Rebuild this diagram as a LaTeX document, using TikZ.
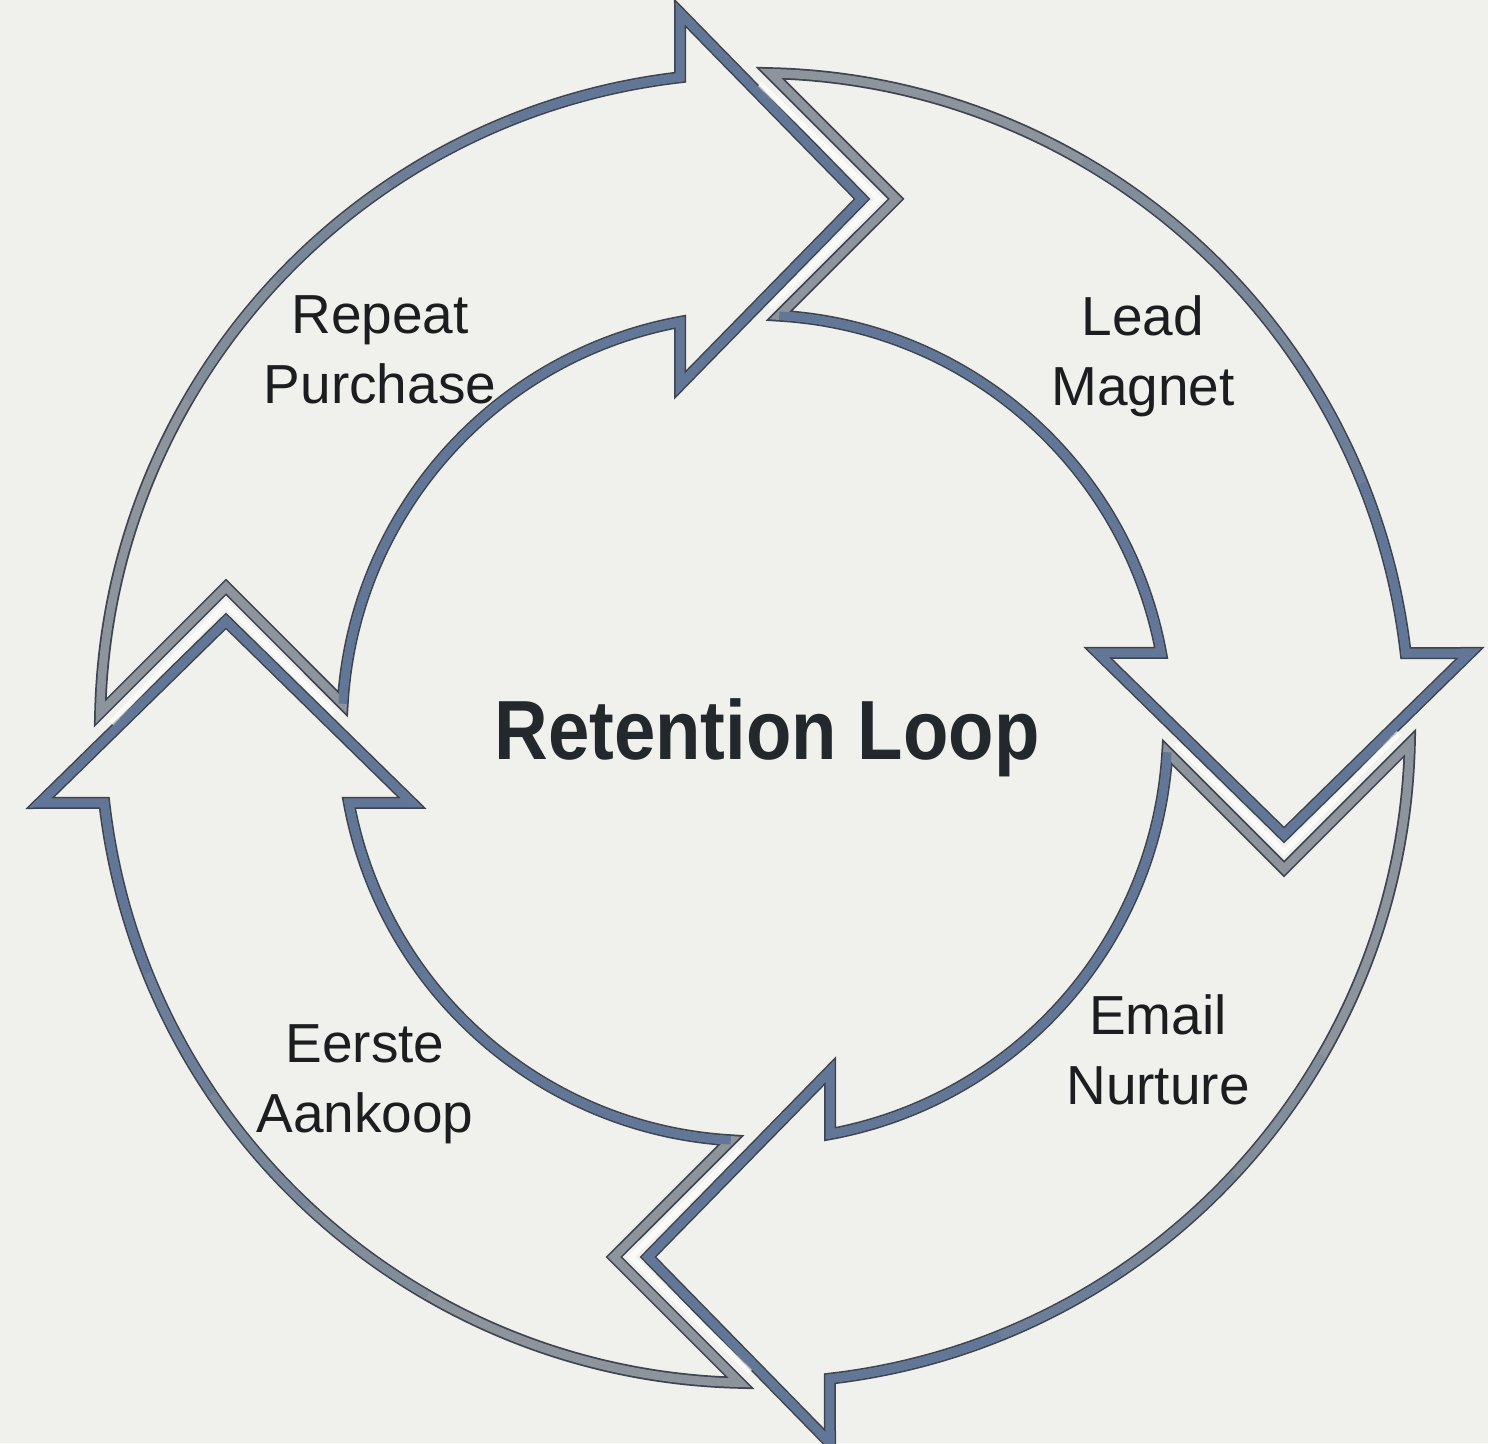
\documentclass[tikz,border=0pt]{standalone}
\usepackage{fontspec}
\setmainfont{Liberation Sans}
\newfontfamily\titlefont{Liberation Sans}[FakeStretch=0.885]

\definecolor{paper}{HTML}{F0F0EC}
\definecolor{rimedge}{HTML}{3E4551}
\definecolor{tailgray}{HTML}{8D949B}
\definecolor{headblue}{HTML}{627797}
\definecolor{inkdark}{HTML}{1B1D1F}
\definecolor{titleink}{HTML}{22282C}

\tikzset{
  rimline/.style={rimedge, line width=12, line join=miter},
  bandline/.style={line width=8.5, line join=miter},
  lbl/.style={font=\fontsize{55}{70}\selectfont, align=center, inner sep=0pt, text=inkdark},
  titlelbl/.style={font=\titlefont\bfseries\fontsize{84}{90}\selectfont, inner sep=0pt, text=titleink}
}

% One curved segment of the loop, drawn with its head at the top pointing
% clockwise and its notched tail on the left; #1 rotates it into place.
\newcommand\loopsegment[1]{%
  \begin{scope}[rotate=#1]
    % dark rim of the whole outline
    \draw[rimline] (-654.8,15.2) arc[start angle=178.67, end angle=96.57, radius=655]
      -- (-75,715) -- (107,529) -- (-75,343) -- (-75,406.1)
      arc[start angle=100.46, end angle=176.63, radius=413]
      -- (-529,141) -- cycle;
    % grey core of the outline
    \draw[bandline, tailgray] (-654.8,15.2) arc[start angle=178.67, end angle=96.57, radius=655]
      -- (-75,715) -- (107,529) -- (-75,343) -- (-75,406.1)
      arc[start angle=100.46, end angle=176.63, radius=413]
      -- (-529,141) -- cycle;
    % outer arc shading from grey towards blue
    \draw[bandline, tailgray!75!headblue] (150:655) arc[start angle=150, end angle=137, radius=655];
    \draw[bandline, tailgray!50!headblue] (137:655) arc[start angle=137, end angle=124, radius=655];
    \draw[bandline, tailgray!25!headblue] (124:655) arc[start angle=124, end angle=112, radius=655];
    % blue head and inner arc
    \draw[bandline, headblue] (112:655) arc[start angle=112, end angle=96.57, radius=655]
      -- (-75,715) -- (107,529) -- (-75,343) -- (-75,406.1)
      arc[start angle=100.46, end angle=176.63, radius=413];
    % light gap between the head and the next tail
    \draw[white, opacity=0.7, line width=6] (5,644) -- (124,529) -- (15,421);
  \end{scope}}

\begin{document}
\begin{tikzpicture}[x=1pt, y=1pt]
  \fill[paper] (0,0) rectangle (1488,1443);
  \useasboundingbox (0,0) rectangle (1488,1443);

  \begin{scope}[shift={(755,715)}]
    \loopsegment{0}
    \loopsegment{-90}
    \loopsegment{-180}
    \loopsegment{90}
  \end{scope}

  \node[lbl] (repeat) at (380,1092.7) {Repeat\\Purchase};
  \node[lbl] (lead) at (1143,1086.9) {Lead\\Magnet};
  \node[lbl] (email) at (1158,392.7) {Email\\Nurture};
  \node[lbl] (eerste) at (365,358.9) {Eerste\\Aankoop};
  \node[titlelbl, anchor=base] (title) at (767,683) {Retention Loop};
\end{tikzpicture}
\end{document}
